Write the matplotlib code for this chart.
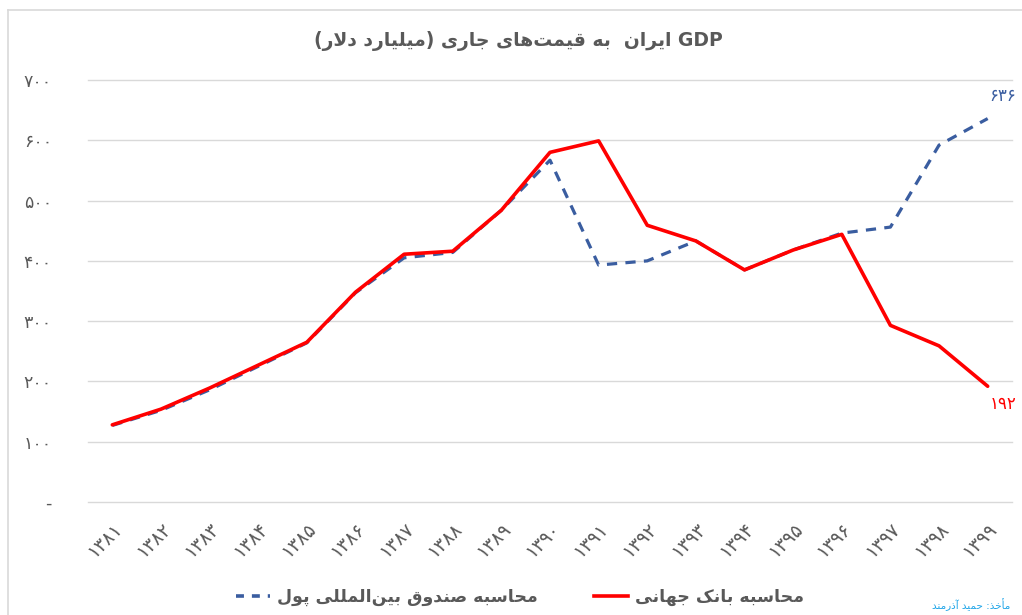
import matplotlib
matplotlib.use("Agg")
import matplotlib.pyplot as plt
from matplotlib.lines import Line2D

# ---------------- data ----------------
years = ['۱۳۸۱', '۱۳۸۲', '۱۳۸۳', '۱۳۸۴', '۱۳۸۵', '۱۳۸۶', '۱۳۸۷', '۱۳۸۸', '۱۳۸۹', '۱۳۹۰',
         '۱۳۹۱', '۱۳۹۲', '۱۳۹۳', '۱۳۹۴', '۱۳۹۵', '۱۳۹۶', '۱۳۹۷', '۱۳۹۸', '۱۳۹۹']
world_bank = [128, 154, 189, 227, 265, 348, 411, 416, 484, 580,
              599, 459, 433, 385, 418, 444, 293, 259, 192]
imf = [127, 152, 186, 225, 264, 347, 405, 414, 484, 567,
       393, 400, 433, 385, 418, 446, 456, 592, 636]
y_ticks = [0, 100, 200, 300, 400, 500, 600, 700]
y_tick_labels = ['-', '۱۰۰', '۲۰۰', '۳۰۰', '۴۰۰', '۵۰۰', '۶۰۰', '۷۰۰']
title_text = 'GDP ایران  به قیمت‌های جاری (میلیارد دلار)'
label_imf = 'محاسبه صندوق بین‌المللی پول'
label_wb = 'محاسبه بانک جهانی'
source_text = 'مأخذ: حمید آذرمند'
last_imf_label = '۶۳۶'
last_wb_label = '۱۹۲'

# ---------------- minimal Arabic/Persian shaping ----------------
DUAL = {
    'ب': (0xFE8F, 0xFE90, 0xFE91, 0xFE92), 'پ': (0xFB56, 0xFB57, 0xFB58, 0xFB59),
    'ت': (0xFE95, 0xFE96, 0xFE97, 0xFE98), 'ج': (0xFE9D, 0xFE9E, 0xFE9F, 0xFEA0),
    'ح': (0xFEA1, 0xFEA2, 0xFEA3, 0xFEA4), 'خ': (0xFEA5, 0xFEA6, 0xFEA7, 0xFEA8),
    'س': (0xFEB1, 0xFEB2, 0xFEB3, 0xFEB4), 'ص': (0xFEB9, 0xFEBA, 0xFEBB, 0xFEBC),
    'ق': (0xFED5, 0xFED6, 0xFED7, 0xFED8), 'ک': (0xFB8E, 0xFB8F, 0xFB90, 0xFB91),
    'ل': (0xFEDD, 0xFEDE, 0xFEDF, 0xFEE0), 'م': (0xFEE1, 0xFEE2, 0xFEE3, 0xFEE4),
    'ن': (0xFEE5, 0xFEE6, 0xFEE7, 0xFEE8), 'ه': (0xFEE9, 0xFEEA, 0xFEEB, 0xFEEC),
    'ی': (0xFBFC, 0xFBFD, 0xFBFE, 0xFBFF),
}
RIGHT = {
    'ا': (0xFE8D, 0xFE8E), 'آ': (0xFE81, 0xFE82), 'أ': (0xFE83, 0xFE84),
    'د': (0xFEA9, 0xFEAA), 'ذ': (0xFEAB, 0xFEAC), 'ر': (0xFEAD, 0xFEAE),
    'ز': (0xFEAF, 0xFEB0), 'و': (0xFEED, 0xFEEE),
}
LAMALEF = {'ا': (0xFEFB, 0xFEFC), 'آ': (0xFEF5, 0xFEF6), 'أ': (0xFEF7, 0xFEF8)}


def shape(text):
    chars = list(text)
    out = []
    i = 0
    n = len(chars)
    while i < n:
        c = chars[i]
        prev = chars[i - 1] if i > 0 else ''
        prev_joins = prev in DUAL
        if c == 'ل' and i + 1 < n and chars[i + 1] in LAMALEF:
            iso, fin = LAMALEF[chars[i + 1]]
            out.append(chr(fin if prev_joins else iso))
            i += 2
            continue
        nxt = chars[i + 1] if i + 1 < n else ''
        next_joins = nxt in DUAL or nxt in RIGHT
        if c in DUAL:
            iso, fin, ini, med = DUAL[c]
            if prev_joins and next_joins:
                out.append(chr(med))
            elif prev_joins:
                out.append(chr(fin))
            elif next_joins:
                out.append(chr(ini))
            else:
                out.append(chr(iso))
        elif c in RIGHT:
            iso, fin = RIGHT[c]
            out.append(chr(fin if prev_joins else iso))
        elif c == '\u200c':
            pass
        else:
            out.append(c)
        i += 1
    return ''.join(out)


def is_ltr(ch):
    return ch.isascii() and ch.isalnum()


MIRROR = {'(': ')', ')': '('}


def rtl(text):
    s = shape(text)
    runs = []
    cur = ''
    cur_ltr = None
    for ch in s:
        l = is_ltr(ch)
        if cur and l != cur_ltr:
            runs.append((cur, cur_ltr))
            cur = ''
        cur += ch
        cur_ltr = l
    if cur:
        runs.append((cur, cur_ltr))
    res = []
    for r, l in reversed(runs):
        if l:
            res.append(r)
        else:
            res.append(''.join(MIRROR.get(c, c) for c in reversed(r)))
    return ''.join(res)


# ---------------- plot ----------------
plt.rcParams['font.family'] = ['DejaVu Sans']
GREY = '#595959'
RED = '#FF0000'
BLUE = '#3A5DA0'

fig = plt.figure(figsize=(10.22, 6.15), dpi=100)
ax = fig.add_axes([88 / 1022, 113 / 615, 924 / 1022, 422 / 615])

x = list(range(len(years)))
ax.plot(x, imf, color=BLUE, lw=2.3, dashes=(3.2, 2.6), zorder=2)
ax.plot(x, world_bank, color=RED, lw=2.6, solid_capstyle='round',
        solid_joinstyle='round', zorder=3)

ax.set_xlim(-0.5, len(years) - 0.5)
ax.set_ylim(0, 700)
ax.set_yticks(y_ticks)
ax.set_yticklabels(y_tick_labels, color=GREY, fontsize=12.5)
ax.set_xticks(x)
ax.set_xticklabels(years, rotation=45, ha='right', va='top',
                   rotation_mode='anchor', color=GREY, fontsize=13.5)
ax.tick_params(axis='y', length=0, pad=26)
ax.tick_params(axis='x', length=0, pad=12)
ax.grid(axis='y', color='#D9D9D9', lw=1.0)
for gl in ax.get_ygridlines():
    gl.set_clip_on(False)
for sp in ax.spines.values():
    sp.set_visible(False)
ax.set_axisbelow(True)

# end labels
ax.annotate(last_imf_label, (x[-1], imf[-1]), xytext=(11, 10),
            textcoords='offset points', color=BLUE, fontsize=12,
            ha='center', va='bottom')
ax.annotate(last_wb_label, (x[-1], world_bank[-1]), xytext=(11, -6),
            textcoords='offset points', color=RED, fontsize=12,
            ha='center', va='top')

# title
fig.text(518 / 1022, 1 - 41 / 615, rtl(title_text), ha='center', va='center',
         fontsize=13.5, fontweight='bold', color=GREY)

# legend
handles = [Line2D([], [], color=BLUE, lw=2.6, dashes=(2.2, 2.2)),
           Line2D([], [], color=RED, lw=2.6)]
fig.legend(handles, [rtl(label_imf), rtl(label_wb)], loc='center',
           bbox_to_anchor=(520 / 1022, 1 - 597 / 615), ncol=2, frameon=False,
           handlelength=2.0, handletextpad=0.4, columnspacing=3.2,
           prop={'size': 12.5, 'weight': 'bold'}, labelcolor=GREY)

# source
fig.text(1010 / 1022, 1 - 605 / 615, rtl(source_text), ha='right', va='center',
         fontsize=7.5, color='#1FA5E8')

# chart border (left and top edges)
fig.add_artist(Line2D([8 / 1022, 8 / 1022], [0, 1 - 10 / 615],
                      transform=fig.transFigure, color='#D9D9D9', lw=1.2))
fig.add_artist(Line2D([8 / 1022, 1], [1 - 10 / 615, 1 - 10 / 615],
                      transform=fig.transFigure, color='#D9D9D9', lw=1.2))

fig.savefig('out.png', dpi=100, facecolor='white')
